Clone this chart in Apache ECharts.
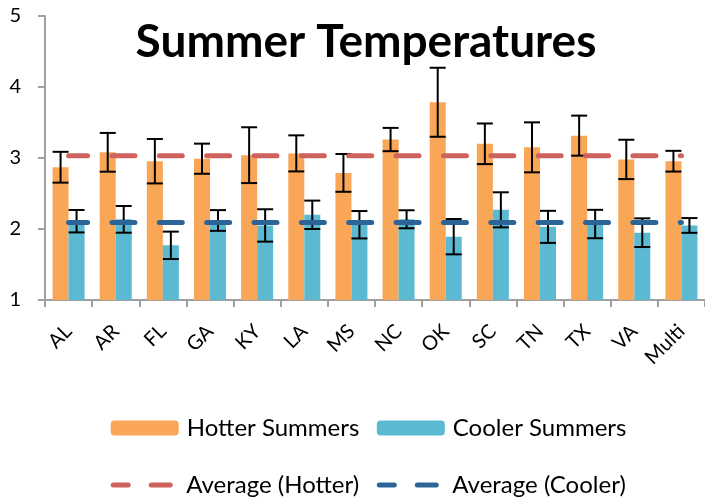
<!DOCTYPE html>
<html>
<head>
<meta charset="utf-8">
<script src="https://cdn.jsdelivr.net/npm/echarts@6/dist/echarts.min.js"></script>
<style>
html,body{margin:0;padding:0;background:#fff;}
#chart{width:705px;height:498px;}
</style>
</head>
<body>
<div id="chart"></div>
<script>
const categories = ['AL','AR','FL','GA','KY','LA','MS','NC','OK','SC','TN','TX','VA','Multi'];
const hotter    = [2.87, 3.08, 2.955, 2.99, 3.04, 3.065, 2.79, 3.26, 3.785, 3.20, 3.15, 3.315, 2.98, 2.955];
const hotterErr = [0.217, 0.273, 0.313, 0.212, 0.393, 0.254, 0.266, 0.164, 0.486, 0.286, 0.352, 0.282, 0.277, 0.146];
const cooler    = [2.11, 2.136, 1.77, 2.12, 2.05, 2.20, 2.06, 2.137, 1.892, 2.27, 2.03, 2.07, 1.948, 2.05];
const coolerErr = [0.158, 0.188, 0.193, 0.146, 0.228, 0.20, 0.193, 0.127, 0.249, 0.247, 0.226, 0.20, 0.202, 0.104];
const avgHotter = 3.03;
const avgCooler = 2.09;
const yTicks = [1, 2, 3, 4, 5];

const FONT = 'Lato';
const BAR_W = 16;
const CAP_W = 16;

const errData = (m, e) => m.map((v, i) => [i, v - e[i], v + e[i]]);

function errRender(sign) {
  return function (params, api) {
    const i = api.value(0);
    const lo = api.coord([i, api.value(1)]);
    const hi = api.coord([i, api.value(2)]);
    const x = lo[0] + sign * BAR_W / 2;
    const st = { stroke: '#000', lineWidth: 2 };
    return {
      type: 'group',
      children: [
        { type: 'line', shape: { x1: x, y1: hi[1], x2: x, y2: lo[1] }, style: st },
        { type: 'line', shape: { x1: x - CAP_W / 2, y1: hi[1], x2: x + CAP_W / 2, y2: hi[1] }, style: st },
        { type: 'line', shape: { x1: x - CAP_W / 2, y1: lo[1], x2: x + CAP_W / 2, y2: lo[1] }, style: st }
      ]
    };
  };
}

const legendBase = {
  orient: 'horizontal', padding: 0, itemGap: 0,
  itemWidth: 68, itemHeight: 15,
  textStyle: { fontFamily: FONT, fontSize: 24, color: '#000', padding: [0, 0, 0, 3] }
};
const legendLine = {
  lineStyle: { type: [19, 23], width: 5, cap: 'round' },
  itemStyle: { opacity: 0, color: 'rgba(0,0,0,0)', borderWidth: 0 },
  textStyle: { fontFamily: FONT, fontSize: 24, color: '#000', padding: [0, 0, 0, 0] }
};

const chart = echarts.init(document.getElementById('chart'), null, { renderer: 'canvas' });
chart.setOption({
  animation: false,
  backgroundColor: '#fff',
  title: {
    text: 'Summer Temperatures',
    left: 366, top: 19, padding: 0, textAlign: 'center',
    textStyle: { fontFamily: FONT, fontWeight: 'bold', fontSize: 46, color: '#000' }
  },
  legend: [
    Object.assign({}, legendBase, { data: ['Hotter Summers'], left: 110.7, top: 416 }),
    Object.assign({}, legendBase, { data: ['Cooler Summers'], left: 376.8, top: 416 }),
    Object.assign({}, legendBase, legendLine, { data: ['Average (Hotter)'], left: 110.7, top: 473 }),
    Object.assign({}, legendBase, legendLine, { data: ['Average (Cooler)'], left: 376.8, top: 473 })
  ],
  grid: { left: 45, right: -3, top: 16, bottom: 198, containLabel: false },
  xAxis: {
    type: 'category',
    data: categories,
    axisLine: { lineStyle: { color: '#A0A0A0', width: 2 } },
    axisTick: { show: true, length: 7, lineStyle: { color: '#A0A0A0', width: 2 } },
    axisLabel: { rotate: 45, margin: 28, fontFamily: FONT, fontSize: 20, color: '#000', interval: 0 }
  },
  yAxis: {
    type: 'value', min: yTicks[0], max: yTicks[yTicks.length - 1], interval: 1,
    axisLine: { show: true, lineStyle: { color: '#A0A0A0', width: 2 } },
    axisTick: { show: true, length: 7, lineStyle: { color: '#A0A0A0', width: 2 } },
    splitLine: { show: false },
    axisLabel: { margin: 24, fontFamily: FONT, fontSize: 20, color: '#000' }
  },
  series: [
    { name: 'Hotter Summers', type: 'bar', data: hotter, barWidth: BAR_W, barGap: '0%',
      itemStyle: { color: '#F9A656' }, z: 2 },
    { name: 'Cooler Summers', type: 'bar', data: cooler, barWidth: BAR_W, barGap: '0%',
      itemStyle: { color: '#5CB9D2' }, z: 2 },
    { name: 'HotterErr', type: 'custom', renderItem: errRender(-1), data: errData(hotter, hotterErr),
      encode: { x: 0, y: [1, 2] }, z: 3, silent: true },
    { name: 'CoolerErr', type: 'custom', renderItem: errRender(1), data: errData(cooler, coolerErr),
      encode: { x: 0, y: [1, 2] }, z: 3, silent: true },
    { name: 'Average (Hotter)', type: 'line', data: categories.map(() => avgHotter), symbol: 'none',
      lineStyle: { color: '#D0625D', width: 5, type: [23, 24.36], dashOffset: 4, cap: 'round' },
      itemStyle: { color: '#D0625D' }, z: 4 },
    { name: 'Average (Cooler)', type: 'line', data: categories.map(() => avgCooler), symbol: 'none',
      lineStyle: { color: '#2D6497', width: 5, type: [23, 24.36], dashOffset: 4, cap: 'round' },
      itemStyle: { color: '#2D6497' }, z: 4 }
  ]
});
</script>
</body>
</html>
